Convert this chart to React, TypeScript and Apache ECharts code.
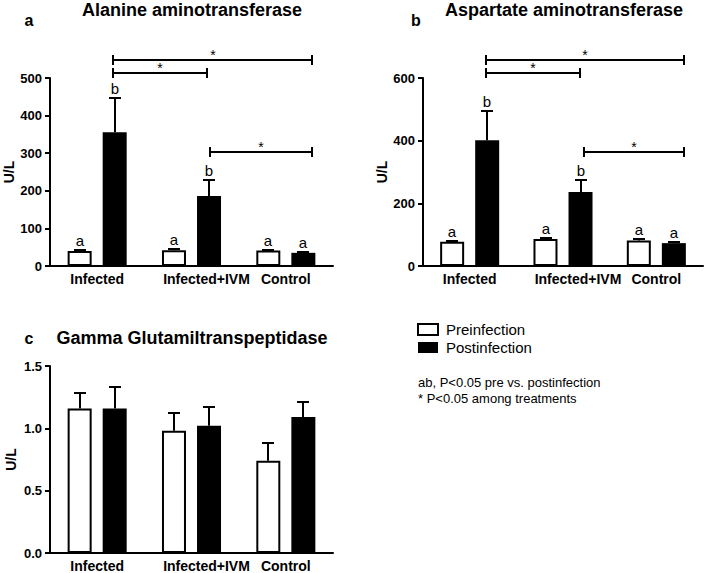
import React, { useEffect, useRef } from 'react';
import * as echarts from 'echarts';

const categories = ['Infected', 'Infected+IVM', 'Control'];

// Panel a: Alanine aminotransferase (U/L)
const altPre = [40, 42, 41];
const altPreErr = [2, 2, 2];
const altPost = [356, 186, 35];
const altPostErr = [92, 44, 2];
const altPreLetters = ['a', 'a', 'a'];
const altPostLetters = ['b', 'b', 'a'];
const altYTicks = { min: 0, max: 500, interval: 100 };
// [from (category units), to (category units), y value]
const altBrackets = [
  [0.17, 2.28, 547],
  [0.17, 1.16, 513],
  [1.2, 2.28, 303],
];

// Panel b: Aspartate aminotransferase (U/L)
const astPre = [77, 86, 81];
const astPreErr = [4, 4, 4];
const astPost = [401, 236, 73];
const astPostErr = [93, 40, 4];
const astPreLetters = ['a', 'a', 'a'];
const astPostLetters = ['b', 'b', 'a'];
const astYTicks = { min: 0, max: 600, interval: 200 };
const astBrackets = [
  [0.18, 2.3, 656],
  [0.18, 1.18, 616],
  [1.22, 2.3, 364],
];

// Panel c: Gamma Glutamiltranspeptidase (U/L)
const ggtPre = [1.16, 0.98, 0.74];
const ggtPreErr = [0.12, 0.14, 0.14];
const ggtPost = [1.16, 1.02, 1.09];
const ggtPostErr = [0.17, 0.15, 0.12];
const ggtYTicks = { min: 0, max: 1.5, interval: 0.5 };

const titles = ['Alanine aminotransferase', 'Aspartate aminotransferase', 'Gamma Glutamiltranspeptidase'];
const panelLetters = ['a', 'b', 'c'];
const legendNames = ['Preinfection', 'Postinfection'];
const notes = ['ab, P<0.05 pre vs. postinfection', '* P<0.05 among treatments'];

const FONT = "'Liberation Sans', Arial, Helvetica, sans-serif";
const BAR_W = 24;
const HALF_STEP = 17.5;
const BLACK = '#000000';

function lineEl(x1: number, y1: number, x2: number, y2: number) {
  return {
    type: 'line',
    shape: { x1, y1, x2, y2 },
    style: { stroke: BLACK, fill: 'none', lineWidth: 2, opacity: 1 },
  };
}

function errSeries(g: number, means: number[], errs: number[], letters: string[] | null, side: number) {
  return {
    type: 'custom',
    xAxisIndex: g,
    yAxisIndex: g,
    silent: true,
    z: 5,
    clip: false,
    color: BLACK,
    itemStyle: { color: BLACK },
    data: means.map((m, i) => [i, m, errs[i]]),
    encode: { x: 0, y: 1 },
    renderItem: (params: any, api: any) => {
      const i = api.value(0);
      const m = api.value(1);
      const e = api.value(2);
      const base = api.coord([i, m]);
      const top = api.coord([i, m + e]);
      const x = Math.round(base[0] + side * HALF_STEP);
      const ty = Math.round(top[1]);
      const children: any[] = [lineEl(x, base[1], x, ty), lineEl(x - 6, ty, x + 6, ty)];
      if (letters) {
        children.push({
          type: 'text',
          x,
          y: ty - 2,
          style: { text: letters[params.dataIndex], fill: BLACK, font: `15px ${FONT}`, align: 'center', verticalAlign: 'bottom' },
        });
      }
      return { type: 'group', children };
    },
  };
}

function bracketSeries(g: number, bracket: number[]) {
  return {
    type: 'custom',
    xAxisIndex: g,
    yAxisIndex: g,
    silent: true,
    z: 5,
    clip: false,
    color: BLACK,
    itemStyle: { color: BLACK },
    data: [[0, bracket[2]]],
    encode: { x: 0, y: 1 },
    renderItem: (params: any, api: any) => {
      const yv = api.value(1);
      const c0 = api.coord([0, yv]);
      const bw = api.size([1, 0], [0, yv])[0];
      const x1 = Math.round(c0[0] + bracket[0] * bw);
      const x2 = Math.round(c0[0] + bracket[1] * bw);
      const y = Math.round(c0[1]);
      return {
        type: 'group',
        children: [
          lineEl(x1, y, x2, y),
          lineEl(x1, y - 5, x1, y + 5),
          lineEl(x2, y - 5, x2, y + 5),
          {
            type: 'text',
            x: Math.round((x1 + x2) / 2),
            y: y + 2,
            style: { text: '*', fill: BLACK, font: `14px ${FONT}`, align: 'center', verticalAlign: 'bottom' },
          },
        ],
      };
    },
  };
}

function barSeries(g: number, name: string, data: number[], pre: boolean) {
  return {
    type: 'bar',
    name,
    xAxisIndex: g,
    yAxisIndex: g,
    data,
    barWidth: BAR_W,
    barGap: '46%',
    itemStyle: pre
      ? { color: '#ffffff', borderColor: BLACK, borderWidth: 2 }
      : { color: BLACK, borderColor: BLACK, borderWidth: 0 },
  };
}

const axisLineStyle = { color: BLACK, width: 2 };

function xAxis(g: number) {
  return {
    type: 'category',
    gridIndex: g,
    data: categories.map((c, i) => (i === 1 ? { value: c, textStyle: { padding: [0, 0, 0, 30] } } : c)),
    axisLine: { show: true, lineStyle: axisLineStyle },
    axisTick: { show: false },
    axisLabel: { color: BLACK, fontFamily: FONT, fontWeight: 'bold', fontSize: 14, margin: 6, interval: 0 },
    splitLine: { show: false },
  };
}

function yAxis(g: number, t: { min: number; max: number; interval: number }, decimals: number) {
  return {
    type: 'value',
    gridIndex: g,
    min: t.min,
    max: t.max,
    interval: t.interval,
    name: 'U/L',
    nameLocation: 'middle',
    nameRotate: 90,
    nameGap: 32,
    nameTextStyle: { color: BLACK, fontFamily: FONT, fontWeight: 'bold', fontSize: 14 },
    axisLine: { show: true, lineStyle: axisLineStyle },
    axisTick: { show: true, inside: false, length: 5, lineStyle: axisLineStyle },
    axisLabel: {
      color: BLACK,
      fontFamily: FONT,
      fontWeight: 'bold',
      fontSize: 13,
      margin: 8,
      formatter: (v: number) => v.toFixed(decimals),
    },
    splitLine: { show: false },
  };
}

function txt(x: number, y: number, text: string, size: number, bold: boolean, align = 'center') {
  return {
    type: 'text',
    x,
    y,
    style: {
      text,
      fill: BLACK,
      font: `${bold ? 'bold ' : ''}${size}px ${FONT}`,
      align,
      verticalAlign: 'middle',
    },
  };
}

export default function App() {
  const ref = useRef<HTMLDivElement>(null);
  useEffect(() => {
    if (!ref.current) return;
    const chart = echarts.init(ref.current, undefined, { renderer: 'svg' });
    const option: any = {
      animation: false,
      backgroundColor: '#ffffff',
      color: [BLACK],
      textStyle: { fontFamily: FONT },
      grid: [
        { left: 50, top: 78, width: 283, height: 188 },
        { left: 423, top: 78, width: 280, height: 188 },
        { left: 50, top: 366, width: 283, height: 188 },
      ],
      xAxis: [xAxis(0), xAxis(1), xAxis(2)],
      yAxis: [yAxis(0, altYTicks, 0), yAxis(1, astYTicks, 0), yAxis(2, ggtYTicks, 1)],
      legend: {
        left: 412,
        top: 317,
        orient: 'vertical',
        icon: 'rect',
        itemWidth: 20,
        itemHeight: 11,
        itemGap: 3,
        selectedMode: false,
        data: legendNames,
        textStyle: { color: BLACK, fontFamily: FONT, fontSize: 15, padding: [0, 0, 0, 3] },
      },
      series: [
        barSeries(0, legendNames[0], altPre, true),
        barSeries(0, legendNames[1], altPost, false),
        barSeries(1, legendNames[0], astPre, true),
        barSeries(1, legendNames[1], astPost, false),
        barSeries(2, legendNames[0], ggtPre, true),
        barSeries(2, legendNames[1], ggtPost, false),
        errSeries(0, altPre, altPreErr, altPreLetters, -1),
        errSeries(0, altPost, altPostErr, altPostLetters, 1),
        errSeries(1, astPre, astPreErr, astPreLetters, -1),
        errSeries(1, astPost, astPostErr, astPostLetters, 1),
        errSeries(2, ggtPre, ggtPreErr, null, -1),
        errSeries(2, ggtPost, ggtPostErr, null, 1),
        ...altBrackets.map((b) => bracketSeries(0, b)),
        ...astBrackets.map((b) => bracketSeries(1, b)),
      ],
      graphic: [
        txt(29, 20, panelLetters[0], 16, true),
        txt(416, 20, panelLetters[1], 16, true),
        txt(29, 338, panelLetters[2], 16, true),
        txt(192, 10, titles[0], 18, true),
        txt(564, 10, titles[1], 18, true),
        txt(192, 338, titles[2], 18, true),
        txt(418, 382, notes[0], 13, false, 'left'),
        txt(418, 398, notes[1], 13, false, 'left'),
      ],
    };
    chart.setOption(option);
    return () => chart.dispose();
  }, []);
  return <div ref={ref} style={{ position: 'absolute', left: 0, top: 0, width: 709, height: 573 }} />;
}
